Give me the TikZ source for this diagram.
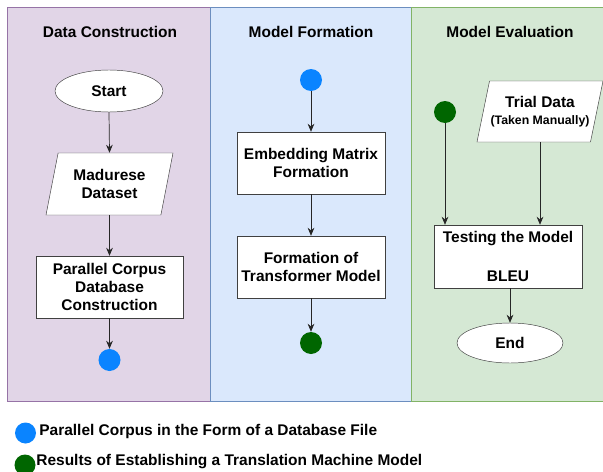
\documentclass[tikz,border=0pt]{standalone}
\usepackage{fontspec}
\setmainfont{Liberation Sans}
\usetikzlibrary{arrows.meta,positioning,shapes.geometric}

\definecolor{lanepurple}{HTML}{E1D5E7}
\definecolor{lanepurpleline}{HTML}{9673A6}
\definecolor{laneblue}{HTML}{DAE8FC}
\definecolor{laneblueline}{HTML}{6C8EBF}
\definecolor{lanegreen}{HTML}{D5E8D4}
\definecolor{lanegreenline}{HTML}{82B366}
\definecolor{dotblue}{HTML}{0A84FF}
\definecolor{dotgreen}{HTML}{006600}

\begin{document}
\begin{tikzpicture}[x=0.03cm,y=-0.03cm,>={Stealth[length=2.4mm,width=2mm]},font=\bfseries\fontsize{13.2}{15.5}\selectfont]
\useasboundingbox (0,0) rectangle (603,472);
% lanes
\draw[lanepurpleline,fill=lanepurple] (7,7) rectangle (210,401);
\draw[laneblueline,fill=laneblue] (210,7) rectangle (411,401);
\draw[lanegreenline,fill=lanegreen] (411,7) rectangle (604,401);
\node (dc_title) at (110,32) {Data Construction};
\node (mf_title) at (311,32) {Model Formation};
\node (me_title) at (510,32) {Model Evaluation};
% data construction
\node[draw=black!75,fill=white,ellipse,minimum width=3.24cm,minimum height=1.26cm] (dc_start) at (109,91) {Start};
\node[draw=black!75,fill=white,trapezium,trapezium left angle=72,trapezium right angle=108,trapezium stretches body,minimum width=3.81cm,minimum height=1.86cm,align=center] (dc_data) at (109.5,184) {Madurese\\Dataset};
\node[draw=black!75,fill=white,minimum width=4.41cm,minimum height=1.86cm,align=center] (dc_corpus) at (109.5,287) {Parallel Corpus\\Database\\Construction};
\node[circle,fill=dotblue,minimum size=0.66cm,inner sep=0pt] (dc_dot) at (109.5,360) {};
\draw[->,black!85,line width=0.6pt] (dc_start.south)--(dc_data.north);
\draw[->,black!85,line width=0.6pt] (dc_data.south)--(dc_corpus.north);
\draw[->,black!85,line width=0.6pt] (dc_corpus.south)--(dc_dot.north);
% model formation
\node[circle,fill=dotblue,minimum size=0.66cm,inner sep=0pt] (mf_dot) at (311,80) {};
\node[draw=black!75,fill=white,minimum width=4.44cm,minimum height=1.86cm,align=center] (mf_embed) at (311,163) {Embedding Matrix\\Formation};
\node[draw=black!75,fill=white,minimum width=4.44cm,minimum height=1.86cm,align=center] (mf_trans) at (311,267) {Formation of\\Transformer Model};
\node[circle,fill=dotgreen,minimum size=0.66cm,inner sep=0pt] (mf_end) at (311,343) {};
\draw[->,black!85,line width=0.6pt] (mf_dot.south)--(mf_embed.north);
\draw[->,black!85,line width=0.6pt] (mf_embed.south)--(mf_trans.north);
\draw[->,black!85,line width=0.6pt] (mf_trans.south)--(mf_end.north);
% model evaluation
\node[circle,fill=dotgreen,minimum size=0.66cm,inner sep=0pt] (me_dot) at (445,112) {};
\node[draw=black!75,fill=white,trapezium,trapezium left angle=72,trapezium right angle=108,trapezium stretches body,minimum width=3.78cm,minimum height=1.83cm,align=center,inner xsep=0pt] (me_trial) at (540,111.5) {Trial Data\\[-1pt]{\fontsize{10.5}{12}\selectfont(Taken Manually)}};
\node[draw=black!75,fill=white,minimum width=4.44cm,minimum height=1.89cm,align=center] (me_test) at (508,256.5) {Testing the Model\\[17pt]BLEU};
\node[draw=black!75,fill=white,ellipse,minimum width=3.18cm,minimum height=1.2cm] (me_end) at (510,343) {End};
\draw[->,black!85,line width=0.6pt] (me_dot.south)--(me_dot|-me_test.north);
\draw[->,black!85,line width=0.6pt] (me_trial.south)--(me_trial.south|-me_test.north);
\draw[->,black!85,line width=0.6pt] (me_test.south-|me_end)--(me_end.north);
% legend
\node[circle,fill=dotblue,minimum size=0.63cm,inner sep=0pt] (lg_blue) at (25.5,433) {};
\node[anchor=west,inner sep=1pt] (lg_blue_txt) at (38,431) {Parallel Corpus in the Form of a Database File};
\node[circle,fill=dotgreen,minimum size=0.63cm,inner sep=0pt] (lg_green) at (25,465) {};
\node[anchor=west,inner sep=1pt] (lg_green_txt) at (35,462) {Results of Establishing a Translation Machine Model};
\end{tikzpicture}
\end{document}
